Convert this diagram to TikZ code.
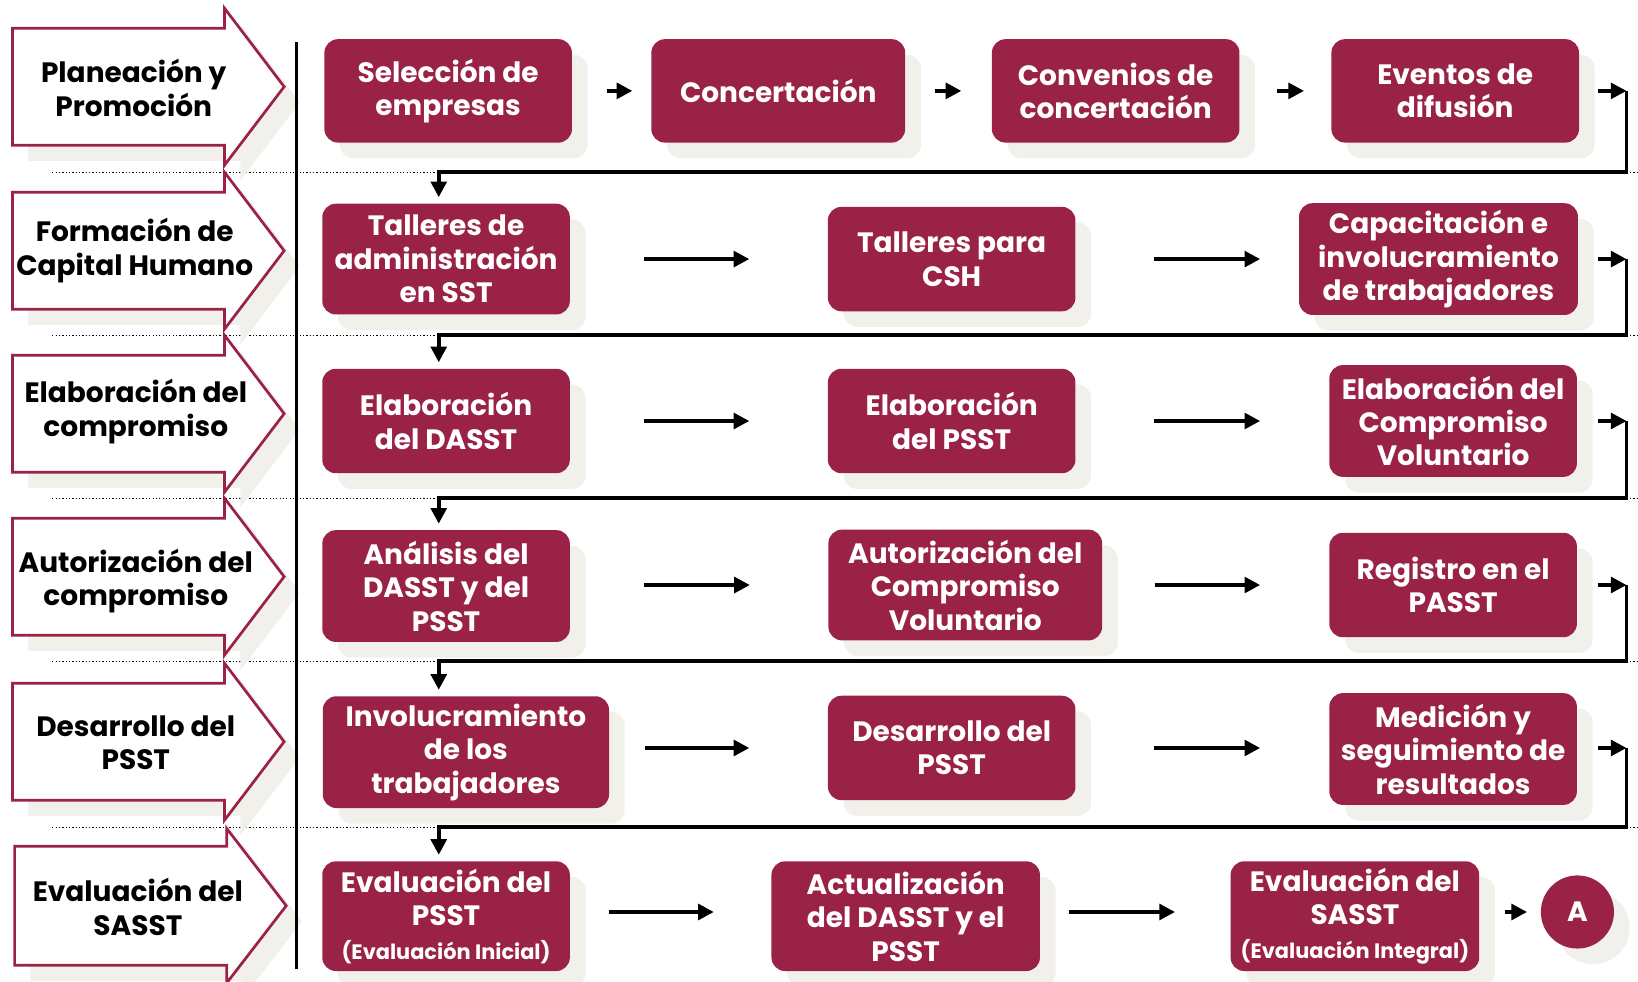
\documentclass[tikz,border=0pt]{standalone}
\usepackage{fontspec}
\setmainfont{Poppins}
\usetikzlibrary{arrows.meta,shadows}

\definecolor{guinda}{HTML}{9B2247}
\definecolor{sombra}{HTML}{F2F0EB}

\tikzset{
  caja/.style={fill=guinda, rounded corners=13pt, text=white, align=center,
    font=\bfseries\fontsize{26.8}{32}\selectfont, inner sep=0pt,
    minimum width=237pt, minimum height=100pt,
    drop shadow={shadow xshift=15pt, shadow yshift=-15pt, fill=sombra, opacity=1}},
  etapa/.style={draw=guinda, line width=2.6pt, fill=white,
    drop shadow={shadow xshift=15pt, shadow yshift=-15pt, fill=sombra, opacity=1}},
  etiqueta/.style={align=center, font=\bfseries\fontsize{26.8}{32}\selectfont},
  flecha/.style={-{Triangle[length=15pt,width=15pt]}, line width=3.6pt},
  linea/.style={line width=3pt},
  separa/.style={dotted, line width=1.2pt},
}

\begin{document}
\begin{tikzpicture}[x=1pt,y=-1pt]
  \useasboundingbox (0,0) rectangle (1568,940);

  % separadores
  \draw[separa](50,165)--(1568,165);
  \draw[separa](50,321)--(1568,321);
  \draw[separa](50,477)--(1568,477);
  \draw[separa](50,633)--(1568,633);
  \draw[separa](50,792)--(1568,792);

  % etapas
  \draw[etapa,shift={(0,83)}](12,-56)--(215,-56)--(215,-75)--(272,0)--(215,75)--(215,56)--(12,56)--cycle;
  \draw[etapa,shift={(0,240)}](12,-56)--(215,-56)--(215,-75)--(272,0)--(215,75)--(215,56)--(12,56)--cycle;
  \draw[etapa,shift={(0,396)}](12,-56)--(215,-56)--(215,-75)--(272,0)--(215,75)--(215,56)--(12,56)--cycle;
  \draw[etapa,shift={(0,552)}](12,-56)--(215,-56)--(215,-75)--(272,0)--(215,75)--(215,56)--(12,56)--cycle;
  \draw[etapa,shift={(0,710)}](12,-56)--(215,-56)--(215,-75)--(272,0)--(215,75)--(215,56)--(12,56)--cycle;
  \draw[etapa,shift={(0,867)}](14,-57)--(217,-57)--(217,-74)--(274,0)--(217,74)--(217,57)--(14,57)--cycle;

  \node[etiqueta](e1) at (128,84){Planeación y\\Promoción};
  \node[etiqueta](e2) at (129,240){Formación de\\Capital Humano};
  \node[etiqueta](e3) at (130,394){Elaboración del\\compromiso};
  \node[etiqueta](e4) at (130,556){Autorización del\\compromiso};
  \node[etiqueta](e5) at (130,711){Desarrollo del\\PSST};
  \node[etiqueta](e6) at (132,868){Evaluación del\\SASST};

  \draw[linea](284,40)--(284,928);

  % fila 1
  \node[caja,minimum height=99pt](b11) at (429,87){Selección de\\empresas};
  \node[caja,minimum width=243pt,minimum height=99pt](b12) at (745,87){Concertación};
  \node[caja,minimum height=99pt](b13) at (1068,87){Convenios de\\concertación};
  \node[caja,minimum height=99pt](b14) at (1393,87){Eventos de\\difusión};

  % fila 2
  \node[caja,minimum height=106pt](b21) at (427,248){Talleres de\\administración\\en SST};
  \node[caja](b22) at (911,248){Talleres para\\CSH};
  \node[caja,minimum width=267pt,minimum height=107pt](b23) at (1377,248){Capacitación e\\involucramiento\\de trabajadores};

  % fila 3
  \node[caja](b31) at (427,403){Elaboración\\del DASST};
  \node[caja](b32) at (911,403){Elaboración\\del PSST};
  \node[caja,minimum height=107pt](b33) at (1391,403){Elaboración del\\Compromiso\\Voluntario};

  % fila 4
  \node[caja,minimum height=107pt](b41) at (427,561){Análisis del\\DASST y del\\PSST};
  \node[caja,minimum width=262pt,minimum height=106pt](b42) at (924,560){Autorización del\\Compromiso\\Voluntario};
  \node[caja](b43) at (1391,560){Registro en el\\PASST};

  % fila 5
  \node[caja,minimum width=274pt,minimum height=107pt](b51) at (446,720){Involucramiento\\de los\\trabajadores};
  \node[caja](b52) at (911,716){Desarrollo del\\PSST};
  \node[caja,minimum height=107pt](b53) at (1391,717){Medición y\\seguimiento de\\resultados};

  % fila 6
  \node[caja,minimum height=105pt](b61) at (427,877){Evaluación del\\PSST\\{\fontsize{20}{26}\selectfont(Evaluación Inicial)}};
  \node[caja,minimum width=257pt,minimum height=105pt](b62) at (867,877){Actualización\\del DASST y el\\PSST};
  \node[caja,minimum width=238pt,minimum height=105pt](b63) at (1297,877){Evaluación del\\SASST\\{\fontsize{20}{26}\selectfont(Evaluación Integral)}};
  \node[caja,circle,minimum width=70pt,minimum height=70pt](A) at (1510,873){A};

  % vueltas
  \coordinate(t1) at (1557,87);  \coordinate(s1) at (1557,165); \coordinate(d1) at (420,165);
  \coordinate(t2) at (1557,248); \coordinate(s2) at (1557,321); \coordinate(d2) at (420,321);
  \coordinate(t3) at (1557,403); \coordinate(s3) at (1557,477); \coordinate(d3) at (420,477);
  \coordinate(t4) at (1557,560); \coordinate(s4) at (1557,633); \coordinate(d4) at (420,633);
  \coordinate(t5) at (1557,716); \coordinate(s5) at (1557,792); \coordinate(d5) at (420,792);

  % flechas fila 1
  \draw[flecha,shorten <=33pt,shorten >=18pt](b11.east|-t1)--(b12.west|-t1);
  \draw[flecha,shorten <=28pt,shorten >=29pt](b12.east|-t1)--(b13.west|-t1);
  \draw[flecha,shorten <=36pt,shorten >=26pt](b13.east|-t1)--(b14.west|-t1);
  \draw[flecha,shorten <=18pt](b14.east|-t1)--(t1);
  \draw[flecha,shorten >=6pt](t1)--(s1)--(d1)--(d1|-b21.north);

  % flechas fila 2
  \draw[flecha,shorten <=71pt,shorten >=75pt](b21.east|-t2)--(b22.west|-t2);
  \draw[flecha,shorten <=75pt,shorten >=37pt](b22.east|-t2)--(b23.west|-t2);
  \draw[flecha,shorten <=19pt](b23.east|-t2)--(t2);
  \draw[flecha,shorten >=6pt](t2)--(s2)--(d2)--(d2|-b31.north);

  % flechas fila 3
  \draw[flecha,shorten <=71pt,shorten >=75pt](b31.east|-t3)--(b32.west|-t3);
  \draw[flecha,shorten <=75pt,shorten >=66pt](b32.east|-t3)--(b33.west|-t3);
  \draw[flecha,shorten <=20pt](b33.east|-t3)--(t3);
  \draw[flecha,shorten >=6pt](t3)--(s3)--(d3)--(d3|-b41.north);

  % flechas fila 4
  \draw[flecha,shorten <=71pt,shorten >=75pt](b41.east|-t4)--(b42.west|-t4);
  \draw[flecha,shorten <=50pt,shorten >=66pt](b42.east|-t4)--(b43.west|-t4);
  \draw[flecha,shorten <=20pt](b43.east|-t4)--(t4);
  \draw[flecha,shorten >=6pt](t4)--(s4)--(d4)--(d4|-b51.north);

  % flechas fila 5
  \draw[flecha,shorten <=34pt,shorten >=75pt](b51.east|-t5)--(b52.west|-t5);
  \draw[flecha,shorten <=75pt,shorten >=66pt](b52.east|-t5)--(b53.west|-t5);
  \draw[flecha,shorten <=20pt](b53.east|-t5)--(t5);
  \draw[flecha,shorten >=6pt](t5)--(s5)--(d5)--(d5|-b61.north);

  % flechas fila 6
  \draw[flecha,shorten <=37pt,shorten >=55pt](b61.east|-A)--(b62.west|-A);
  \draw[flecha,shorten <=28pt,shorten >=53pt](b62.east|-A)--(b63.west|-A);
  \draw[flecha,shorten <=24pt,shorten >=13pt](b63.east|-A)--(A.west);
\end{tikzpicture}
\end{document}
